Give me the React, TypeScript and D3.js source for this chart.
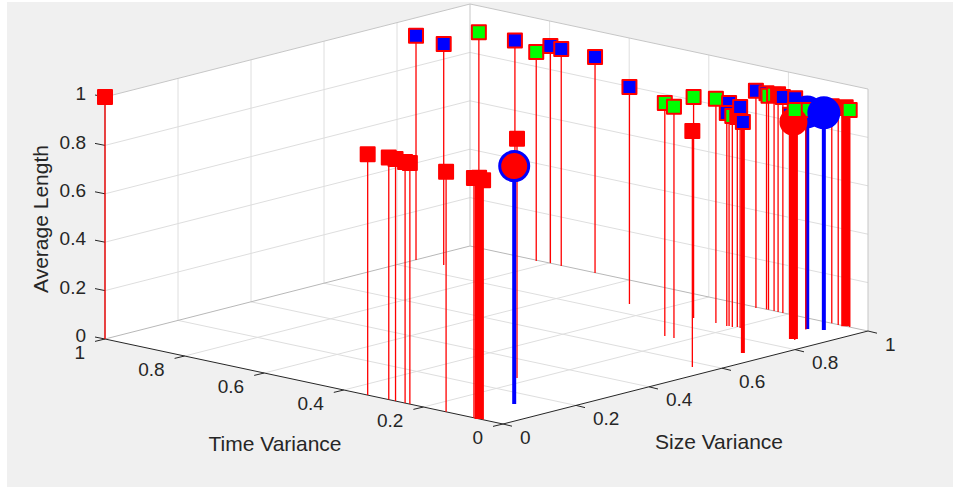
import React, { useEffect, useRef } from 'react';
import * as d3 from 'd3';

const width = 953;
const height = 487;

const tickValues = [0, 0.2, 0.4, 0.6, 0.8, 1];
const tickLabels = ['0', '0.2', '0.4', '0.6', '0.8', '1'];

// values, one small group per marker style
const redSquareSize = [0, 0, 0, 0, 0, 0, 0, 0, 0, 0.287, 0.57, 0.86, 0.999, 1, 0.998];
const redSquareTime = [1, 0.34, 0.287, 0.27, 0.246, 0.234, 0.143, 0.073, 0.05, 0.228, 0.047, 0.2, 0.225, 0.091, 0.073];
const redSquareLength = [1, 0.995, 1, 1, 0.996, 0.996, 0.992, 0.991, 0.99, 0.988, 0.975, 0.868, 0.9, 0.897, 0.897];

const heavySquareSize = [0, 1];
const heavySquareTime = [0.06, 0.056];
const heavySquareLength = [0.996, 0.905];

const blueSquareSize = [0.851, 0.856, 0.857, 1, 0.997, 0.998, 0.86, 0.856, 0.853, 0.858, 0.995, 1, 0.999, 1, 0.903];
const blueSquareTime = [0.999, 0.934, 0.756, 0.798, 0.768, 0.684, 0.471, 0.217, 0.22, 0.191, 0.277, 0.255, 0.213, 0.183, 0.107];
const blueSquareLength = [0.926, 0.913, 0.99, 0.897, 0.897, 0.893, 0.897, 0.921, 0.88, 0.913, 0.897, 0.893, 0.893, 0.897, 0.893];

const heavyBlueSquareSize = [0.715];
const heavyBlueSquareTime = [0.053];
const heavyBlueSquareLength = [0.955];

const greenSquareSize = [0.888, 0.995, 0.717, 0.717, 0.858, 0.857, 0.854, 1, 1, 0.856, 0.931, 1];
const greenSquareTime = [0.875, 0.829, 0.251, 0.228, 0.308, 0.251, 0.207, 0.25, 0.236, 0.052, 0.093, 0.046];
const greenSquareLength = [0.97, 0.864, 0.963, 0.955, 0.913, 0.926, 0.872, 0.884, 0.893, 0.95, 0.907, 0.897];

const ringCircleSize = [0.131];
const ringCircleTime = [0.092];
const ringCircleLength = [0.983];

const redCircleSize = [0.86];
const redCircleTime = [0.059];
const redCircleLength = [0.897];

const blueCircleSize = [0.936, 0.951];
const blueCircleTime = [0.094, 0.066];
const blueCircleLength = [0.897, 0.897];

const series = [
  { size: redSquareSize, time: redSquareTime, length: redSquareLength, shape: 'square', face: '#ff0000', edge: '#ff0000', stem: '#ff0000', stemWidth: 1.3 },
  { size: heavySquareSize, time: heavySquareTime, length: heavySquareLength, shape: 'square', face: '#ff0000', edge: '#ff0000', stem: '#ff0000', stemWidth: 9 },
  { size: blueSquareSize, time: blueSquareTime, length: blueSquareLength, shape: 'square', face: '#0000ff', edge: '#ff0000', stem: '#ff0000', stemWidth: 1.3 },
  { size: heavyBlueSquareSize, time: heavyBlueSquareTime, length: heavyBlueSquareLength, shape: 'square', face: '#0000ff', edge: '#ff0000', stem: '#ff0000', stemWidth: 4 },
  { size: greenSquareSize, time: greenSquareTime, length: greenSquareLength, shape: 'square', face: '#00ff00', edge: '#ff0000', stem: '#ff0000', stemWidth: 1.3 },
  { size: ringCircleSize, time: ringCircleTime, length: ringCircleLength, shape: 'circle', face: '#ff0000', edge: '#0000ff', stem: '#0000ff', stemWidth: 4, radius: 14.5 },
  { size: redCircleSize, time: redCircleTime, length: redCircleLength, shape: 'circle', face: '#ff0000', edge: '#ff0000', stem: '#ff0000', stemWidth: 9, radius: 12.5 },
  { size: blueCircleSize, time: blueCircleTime, length: blueCircleLength, shape: 'circle', face: '#0000ff', edge: '#0000ff', stem: '#0000ff', stemWidth: 4, radius: 15 },
];

// oblique view of the unit cube, front corner at size=0, time=0, length=0
const originX = 503;
const originY = 424;
const sizeX = d3.scaleLinear().domain([0, 1]).range([0, 365]);
const sizeY = d3.scaleLinear().domain([0, 1]).range([0, -93]);
const timeX = d3.scaleLinear().domain([0, 1]).range([0, -398]);
const timeY = d3.scaleLinear().domain([0, 1]).range([0, -85]);
const lengthY = d3.scaleLinear().domain([0, 1]).range([0, -242]);

const project = (s: number, t: number, z: number): [number, number] => [
  originX + sizeX(s) + timeX(t),
  originY + sizeY(s) + timeY(t) + lengthY(z),
];

const App = () => {
  const chartRef = useRef<SVGSVGElement>(null);

  useEffect(() => {
    const svg = d3.select(chartRef.current);
    svg.selectAll('*').remove();

    svg.append('rect').attr('x', 7).attr('y', 2).attr('width', width - 7).attr('height', height - 2).attr('fill', '#f0f0f0');

    const line = d3.line();
    const drawLine = (a: [number, number], b: [number, number], color: string, w: number) =>
      svg.append('path').attr('d', line([a, b])).attr('stroke', color).attr('stroke-width', w).attr('fill', 'none');

    // walls and floor
    const plane = (pts: [number, number][]) =>
      svg.append('path').attr('d', line(pts) + 'Z').attr('fill', '#ffffff');
    plane([project(0, 1, 0), project(1, 1, 0), project(1, 1, 1), project(0, 1, 1)]);
    plane([project(1, 1, 0), project(1, 0, 0), project(1, 0, 1), project(1, 1, 1)]);
    plane([project(0, 0, 0), project(1, 0, 0), project(1, 1, 0), project(0, 1, 0)]);

    const gridColor = '#dedede';
    tickValues.slice(1, -1).forEach((v) => {
      drawLine(project(v, 1, 0), project(v, 1, 1), gridColor, 1);
      drawLine(project(1, v, 0), project(1, v, 1), gridColor, 1);
      drawLine(project(v, 0, 0), project(v, 1, 0), gridColor, 1);
      drawLine(project(0, v, 0), project(1, v, 0), gridColor, 1);
    });
    tickValues.slice(1, -1).forEach((v) => {
      drawLine(project(0, 1, v), project(1, 1, v), gridColor, 1);
      drawLine(project(1, 1, v), project(1, 0, v), gridColor, 1);
    });

    const boxColor = '#c6c6c6';
    drawLine(project(0, 1, 0), project(1, 1, 0), '#b8b8b8', 1);
    drawLine(project(1, 1, 0), project(1, 0, 0), '#b8b8b8', 1);
    drawLine(project(0, 1, 1), project(1, 1, 1), boxColor, 1);
    drawLine(project(1, 1, 1), project(1, 0, 1), boxColor, 1);
    drawLine(project(1, 1, 0), project(1, 1, 1), boxColor, 1);
    drawLine(project(1, 0, 0), project(1, 0, 1), boxColor, 1);

    // axes
    const axisColor = '#262626';
    drawLine(project(0, 1, 0), project(0, 0, 0), axisColor, 1);
    drawLine(project(0, 0, 0), project(1, 0, 0), axisColor, 1);
    drawLine(project(0, 1, 0), project(0, 1, 1), '#808080', 1);

    const addLabel = (x: number, y: number, text: string, anchor: string, size = 19) =>
      svg
        .append('text')
        .attr('x', x)
        .attr('y', y)
        .attr('dy', '.35em')
        .attr('text-anchor', anchor)
        .attr('font-family', '"Liberation Sans", Arial, sans-serif')
        .attr('font-size', size)
        .attr('fill', axisColor)
        .text(text);

    tickValues.forEach((v, i) => {
      const timePt = project(0, v, 0);
      drawLine(timePt, [timePt[0] - 10, timePt[1] + 2.4], axisColor, 1);
      addLabel(timePt[0] - 20, timePt[1] + 13.5, tickLabels[i], 'end');

      const sizePt = project(v, 0, 0);
      drawLine(sizePt, [sizePt[0] + 9, sizePt[1] + 2.2], axisColor, 1);
      addLabel(sizePt[0] + 17, sizePt[1] + 13, tickLabels[i], 'start');

      const lengthPt = project(0, 1, v);
      drawLine(lengthPt, [lengthPt[0] - 10, lengthPt[1] - 2], axisColor, 1);
      addLabel(lengthPt[0] - 19, lengthPt[1] - 3.5, tickLabels[i], 'end');
    });

    addLabel(275, 443.6, 'Time Variance', 'middle', 21);
    addLabel(719, 441.6, 'Size Variance', 'middle', 21);
    svg
      .append('text')
      .attr('transform', 'translate(47.5,219) rotate(-90)')
      .attr('text-anchor', 'middle')
      .attr('font-family', '"Liberation Sans", Arial, sans-serif')
      .attr('font-size', 21)
      .attr('fill', axisColor)
      .text('Average Length');

    // back to front, so nearer stems and markers cover the ones behind them
    const points = series.flatMap((d) =>
      d.size.map((s, i) => ({ s, t: d.time[i], z: d.length[i], style: d }))
    );
    points.sort((a, b) => d3.ascending(project(a.s, a.t, 0)[1], project(b.s, b.t, 0)[1]));

    const marks = svg.selectAll('.mark').data(points).enter().append('g').attr('class', 'mark');

    marks
      .append('line')
      .attr('x1', (d) => project(d.s, d.t, 0)[0])
      .attr('y1', (d) => project(d.s, d.t, 0)[1])
      .attr('x2', (d) => project(d.s, d.t, d.z)[0])
      .attr('y2', (d) => project(d.s, d.t, d.z)[1])
      .attr('stroke', (d) => d.style.stem)
      .attr('stroke-width', (d) => d.style.stemWidth);

    marks
      .filter((d) => d.style.shape === 'square')
      .append('rect')
      .attr('x', (d) => project(d.s, d.t, d.z)[0] - 7)
      .attr('y', (d) => project(d.s, d.t, d.z)[1] - 7)
      .attr('width', 14)
      .attr('height', 14)
      .attr('fill', (d) => d.style.face)
      .attr('stroke', (d) => d.style.edge)
      .attr('stroke-width', 2)
      .attr('stroke-linejoin', 'round');

    marks
      .filter((d) => d.style.shape === 'circle')
      .append('circle')
      .attr('cx', (d) => project(d.s, d.t, d.z)[0])
      .attr('cy', (d) => project(d.s, d.t, d.z)[1])
      .attr('r', (d) => d.style.radius)
      .attr('fill', (d) => d.style.face)
      .attr('stroke', (d) => d.style.edge)
      .attr('stroke-width', 3);

  // eslint-disable-next-line react-hooks/exhaustive-deps
  }, []);

  return (
    <svg
      ref={chartRef}
      width={width}
      height={height}
      style={{ position: 'absolute', left: 0, top: 0, display: 'block' }}
    ></svg>
  );
};

export default App;
